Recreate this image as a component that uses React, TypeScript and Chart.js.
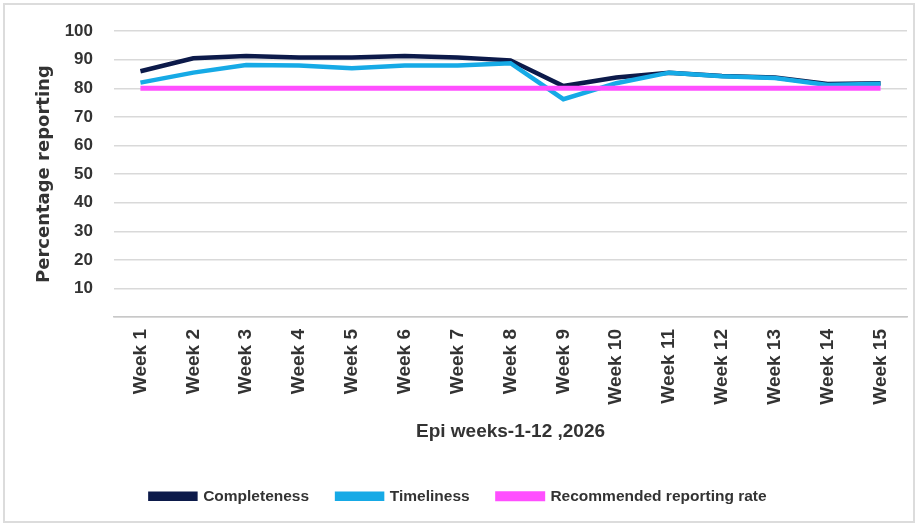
import React, { useEffect, useRef } from "react";
import { Chart, registerables } from "chart.js";

Chart.register(...registerables);

const weeks = ["Week 1", "Week 2", "Week 3", "Week 4", "Week 5", "Week 6", "Week 7", "Week 8", "Week 9", "Week 10", "Week 11", "Week 12", "Week 13", "Week 14", "Week 15"];
const completeness = [86, 90.5, 91.3, 90.8, 90.8, 91.3, 90.8, 89.8, 80.8, 83.8, 85.5, 84.3, 83.8, 81.5, 81.8];
const timeliness = [82, 85.5, 88.2, 88, 87, 88, 88, 88.8, 76.2, 81.8, 85.5, 84.2, 83.6, 81.2, 81.6];
const recommended = [80, 80, 80, 80, 80, 80, 80, 80, 80, 80, 80, 80, 80, 80, 80];
const yTicks = [0, 10, 20, 30, 40, 50, 60, 70, 80, 90, 100];

const FONT = "'Liberation Sans', Arial, sans-serif";

export default function App() {
  const ref = useRef<HTMLCanvasElement | null>(null);
  useEffect(() => {
    if (!ref.current) return;
    const chart = new Chart(ref.current, {
      type: "line",
      data: {
        labels: weeks,
        datasets: [
          { label: "Completeness", data: completeness, borderColor: "#0c1a4a", backgroundColor: "#0c1a4a", borderWidth: 4.5, pointRadius: 0, order: 2 },
          { label: "Timeliness", data: timeliness, borderColor: "#16aae6", backgroundColor: "#16aae6", borderWidth: 4.5, pointRadius: 0, order: 1 },
          { label: "Recommended reporting rate", data: recommended, borderColor: "#ff4fff", backgroundColor: "#ff4fff", borderWidth: 5, pointRadius: 0, order: 0 },
        ],
      },
      options: {
        animation: false,
        responsive: true,
        maintainAspectRatio: false,
        layout: { padding: { top: 31, left: 10, right: 11, bottom: 14 } },
        plugins: {
          tooltip: { enabled: false },
          legend: {
            position: "bottom",
            labels: {
              boxWidth: 45,
              boxHeight: 5,
              padding: 28,
              color: "#333333",
              font: { family: FONT, size: 15.5, weight: "bold" },
              sort: (a: any, b: any) => a.datasetIndex - b.datasetIndex,
            },
          },
        },
        scales: {
          x: {
            offset: true,
            grid: { display: false, drawTicks: false },
            border: { display: true, color: "#c8c8c8", width: 1.5 },
            ticks: {
              autoSkip: false,
              minRotation: 90,
              maxRotation: 90,
              padding: 12,
              color: "#333333",
              font: { family: FONT, size: 19, weight: "bold" },
            },
            title: {
              display: true,
              text: "Epi weeks-1-12 ,2026",
              color: "#333333",
              font: { family: FONT, size: 19, weight: "bold" },
              padding: { top: 0, bottom: 17 },
            },
            afterFit: (scale: any) => {
              scale.height = 143.5;
            },
          },
          y: {
            min: 0,
            max: 100,
            afterBuildTicks: (scale: any) => {
              scale.ticks = yTicks.map((v) => ({ value: v }));
            },
            grid: { color: "#d9d9d9", lineWidth: 1.5, drawTicks: false },
            border: { display: false },
            ticks: {
              padding: 21,
              color: "#333333",
              font: { family: FONT, size: 17, weight: "bold" },
              callback: (v: any) => (v === 0 ? "" : String(v)),
            },
            title: {
              display: true,
              text: "Percentage reporting",
              color: "#333333",
              font: { family: "'DejaVu Sans', sans-serif", size: 18, weight: "bold" },
              padding: { top: 24, bottom: 0 },
            },
            afterFit: (scale: any) => {
              scale.width = 104;
            },
          },
        },
      },
    });
    return () => chart.destroy();
  }, []);
  return (
    <div style={{ position: "fixed", left: 0, top: 0, width: 918, height: 528, background: "#ffffff" }}>
      <div style={{ position: "absolute", left: 3, top: 3, width: 908, height: 516, border: "2px solid #dcdcdc", boxSizing: "content-box" }} />
      <div style={{ position: "absolute", left: 0, top: 0, width: 918, height: 528 }}>
        <canvas ref={ref} />
      </div>
    </div>
  );
}
